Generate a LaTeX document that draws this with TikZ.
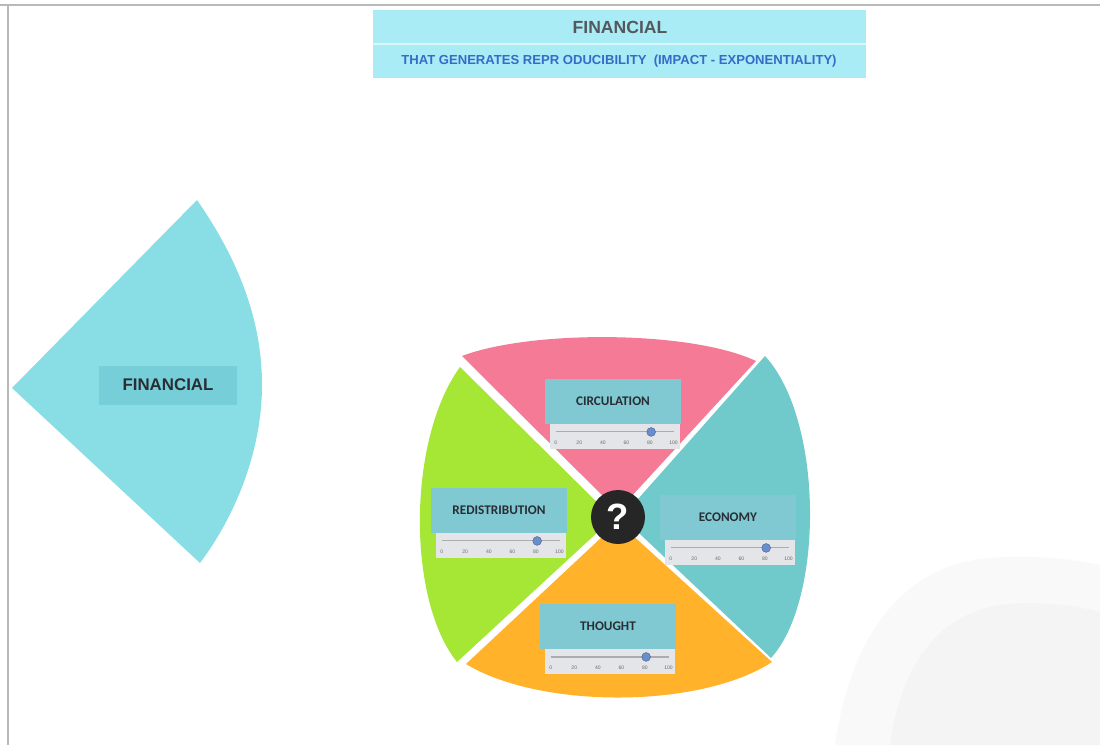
\documentclass[tikz,border=0pt]{standalone}
\usepackage{fontspec}
\setmainfont{Liberation Sans}
\newfontfamily\cardfont{Carlito}
\usetikzlibrary{positioning,calc}
\tikzset{
  every picture/.append style={line width=0.6pt},
}
\tikzset{
  card/.style={fill=cardcyan, minimum width=3.375cm, minimum height=1.125cm, inner sep=0pt, text=inkgray,
    font=\cardfont\bfseries\fontsize{9.4}{10}\selectfont},
  slider/.style={fill=slidergray, minimum width=3.25cm, minimum height=0.625cm, inner sep=0pt},
  rail/.style={draw=gray!65, line width=0.8pt},
  knob/.style={circle, fill=knobblue, draw=knobblue!70!black, line width=0.3pt, minimum size=0.22cm, inner sep=0pt},
  tick/.style={font=\fontsize{3.6}{4}\selectfont, text=gray!85!black, inner sep=0pt}
}

\begin{document}
\begin{tikzpicture}[x=0.025cm, y=-0.025cm]
% Color definitions
\definecolor{bannercyan}{RGB}{170,236,246}
\definecolor{subblue}{RGB}{52,108,200}
\definecolor{fancyan}{RGB}{136,222,228}
\definecolor{fanlabel}{RGB}{118,206,216}
\definecolor{inkgray}{RGB}{40,46,52}
\definecolor{piecepink}{RGB}{244,122,150}
\definecolor{piecegreen}{RGB}{166,230,52}
\definecolor{pieceorange}{RGB}{255,178,42}
\definecolor{pieceteal}{RGB}{112,201,202}
\definecolor{cardcyan}{RGB}{128,200,210}
\definecolor{slidergray}{RGB}{228,229,232}
\definecolor{knobblue}{RGB}{104,142,204}

\useasboundingbox (0,0) rectangle (1100,745);
\fill[white] (0,0) rectangle (1100,745);

% paper edges and shadow
\draw[gray!55, line width=0.8pt] (0,5) -- (1100,5);
\draw[gray!55, line width=0.8pt] (8,5) -- (8,745);
\fill[gray!5] (835,745) .. controls (850,640) and (900,565) .. (990,558)
  .. controls (1050,553) and (1100,565) .. (1100,565) -- (1100,745) -- cycle;
\fill[gray!9] (890,745) .. controls (900,670) and (935,615) .. (1000,605)
  .. controls (1050,598) and (1100,612) .. (1100,612) -- (1100,745) -- cycle;

% Banner
\node[fill=bannercyan, minimum width=12.325cm, minimum height=1.7cm, inner sep=0pt] (banner) at (619.5,44) {};
\draw[white!55!bannercyan, line width=0.8pt] (banner.west |- 0,44) -- (banner.east |- 0,44);
\node[text=inkgray!80, font=\bfseries\fontsize{12.5}{14}\selectfont] (title) at (620,27) {FINANCIAL};
\node[text=subblue, font=\bfseries\fontsize{9.3}{11}\selectfont] (subtitle) at (619,61)
  {THAT GENERATES REPR ODUCIBILITY\ \ (IMPACT - EXPONENTIALITY)};

% Left fan
\fill[fancyan] (12,388) -- (197,200) .. controls (240,262) and (262,322) .. (262,385)
  .. controls (262,450) and (236,515) .. (200,563) -- cycle;
\node[fill=fanlabel, minimum width=3.45cm, minimum height=0.975cm, inner sep=0pt, text=inkgray,
  font=\bfseries\fontsize{12}{14}\selectfont] (fanlbl) at (168,385) {FINANCIAL};

% Wheel
\fill[piecepink] (618,511) -- (462,356) .. controls (530,330) and (690,330) .. (756,361) -- cycle;
\fill[piecegreen] (613,518) -- (460,367) .. controls (407,440) and (407,600) .. (457,662) -- cycle;
\fill[pieceorange] (618,522) -- (466,664) .. controls (540,709) and (700,709) .. (772,662) -- cycle;
\fill[pieceteal] (622,517) -- (765,356) .. controls (824,420) and (824,600) .. (771,658) -- cycle;

\node[circle, fill=black!85, minimum size=1.35cm, inner sep=0pt, text=white,
  font=\bfseries\fontsize{26}{26}\selectfont] (hub) at (618,517) {?};

% Cards with sliders
\foreach \nm/\txt/\cx/\cy in {circ/CIRCULATION/613/401, redis/REDISTRIBUTION/499/510,
    econ/ECONOMY/728/517, thought/THOUGHT/608/626}{
  \node[card] (\nm) at (\cx,\cy) {\txt};
  \node[slider, below=0pt of \nm, xshift=1.5pt] (\nm-s) {};
  \coordinate (\nm-a) at ($(\nm-s.north west)+(6,8)$);
  \coordinate (\nm-b) at ($(\nm-s.north east)+(-7,8)$);
  \draw[rail] (\nm-a) -- (\nm-b);
  \foreach \v in {0,20,...,100}
    \node[tick] (\nm-t\v) at ($(\nm-a)!\v/100!(\nm-b)+(0,11)$) {\v};
  \node[knob] (\nm-k) at ($(\nm-a)!0.81!(\nm-b)$) {};
}
\end{tikzpicture}
\end{document}
